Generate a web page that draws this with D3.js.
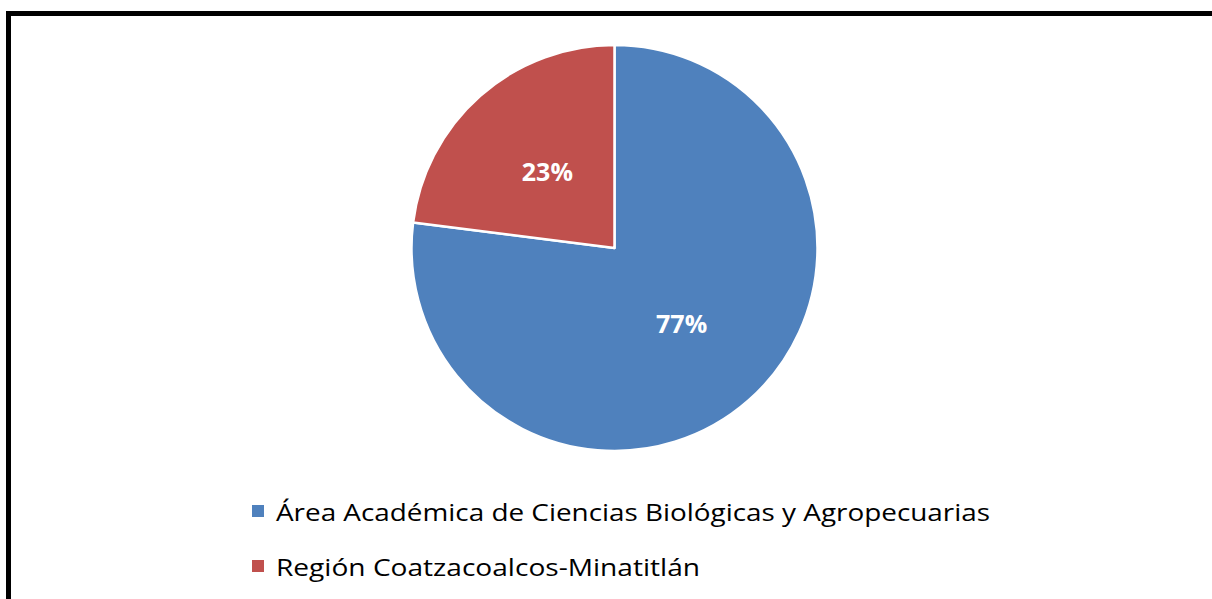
<!DOCTYPE html>
<html>
<head>
<meta charset="utf-8">
<script src="https://cdn.jsdelivr.net/npm/d3@7"></script>
<style>
  body { margin: 0; background: #fff; }
  svg { display: block; }
</style>
</head>
<body>
<svg width="1212" height="599"></svg>
<script>
// ---> Data
const categories = ["Área Académica de Ciencias Biológicas y Agropecuarias", "Región Coatzacoalcos-Minatitlán"];
const values = [77, 23];
const labels = ["77%", "23%"];
const colors = ["#4F81BD", "#C0504D"];

const svg = d3.select("svg");
const font = "'Open Sans', sans-serif";

// outer frame (runs past the bottom/right edges)
svg.append("rect")
    .attr("x", 8.5).attr("y", 13.5)
    .attr("width", 1230).attr("height", 620)
    .attr("fill", "#fff")
    .attr("stroke", "#000")
    .attr("stroke-width", 5);

// ---> Pie
const cx = 614.5, cy = 248, radius = 203;
const pie = d3.pie().sort(null).value(d => d)(values);
const arc = d3.arc().innerRadius(0).outerRadius(radius);
const labelArc = d3.arc().innerRadius(radius * 0.5).outerRadius(radius * 0.5);

const g = svg.append("g").attr("transform", `translate(${cx},${cy})`);

g.selectAll("path")
    .data(pie)
    .enter()
    .append("path")
    .attr("d", arc)
    .attr("fill", (d, i) => colors[i])
    .attr("stroke", "#fff")
    .attr("stroke-width", 2.5)
    .attr("stroke-linejoin", "round");

g.selectAll("text")
    .data(pie)
    .enter()
    .append("text")
    .attr("transform", d => `translate(${labelArc.centroid(d)})`)
    .attr("text-anchor", "middle")
    .attr("dy", "0.36em")
    .attr("fill", "#fff")
    .style("font-family", font)
    .style("font-weight", "bold")
    .style("font-size", "25px")
    .text((d, i) => labels[i]);

// ---> Legend
const legendWidths = [714, 424];
const legend = svg.append("g")
    .selectAll("g")
    .data(categories)
    .enter()
    .append("g")
    .attr("transform", (d, i) => `translate(252,${505 + i * 55})`);

legend.append("rect")
    .attr("width", 12).attr("height", 12)
    .attr("fill", (d, i) => colors[i]);

legend.append("text")
    .attr("x", 24)
    .attr("y", 16)
    .attr("fill", "#000")
    .attr("textLength", (d, i) => legendWidths[i])
    .attr("lengthAdjust", "spacingAndGlyphs")
    .style("font-family", font)
    .style("font-size", "24px")
    .text(d => d);
</script>
</body>
</html>
